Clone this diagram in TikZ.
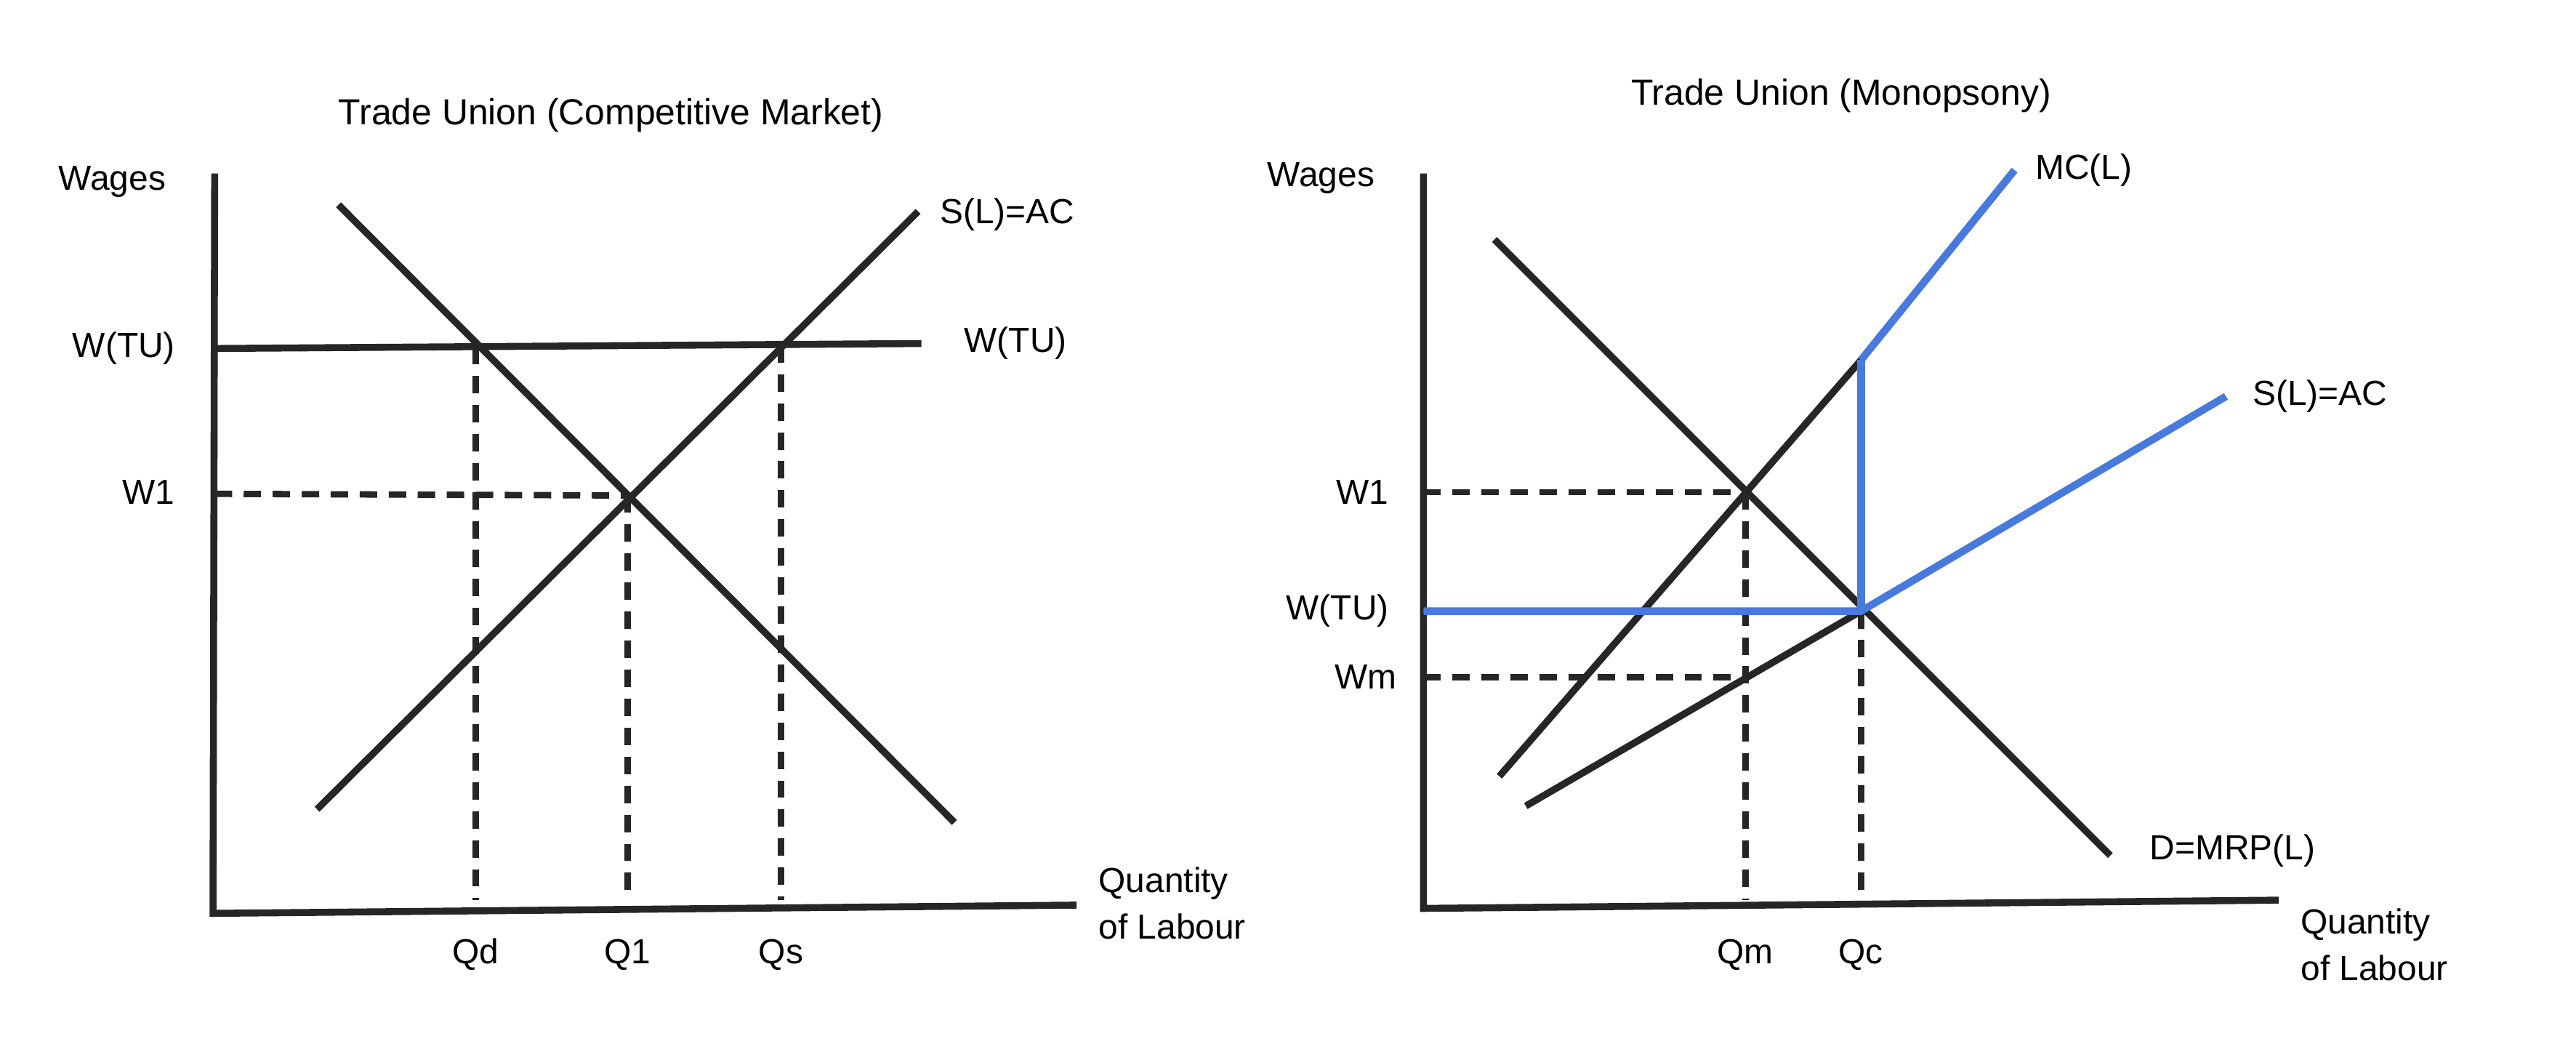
\documentclass[tikz,border=0pt]{standalone}
\usepackage{fontspec}
\setmainfont{Liberation Sans}
\definecolor{bl}{RGB}{72,122,222}
\begin{document}
\begin{tikzpicture}[x=0.02cm,y=-0.02cm,
  ln/.style={line width=2.4pt,black!85},
  bln/.style={line width=2.6pt,bl},
  dsh/.style={line width=2.2pt,black!85,dash pattern=on 6pt off 4pt},
  lb/.style={font=\fontsize{12}{14}\selectfont,inner sep=0pt},
  ttl/.style={font=\fontsize{12.5}{14}\selectfont,inner sep=0pt}]
\useasboundingbox (0,0) rectangle (1560,632);
% left
\node[ttl] (t1) at (370,70) {Trade Union (Competitive Market)};
\node[lb] (wa1) at (68,110) {Wages};
\coordinate (ya1) at (130,105); \coordinate (o1) at (129,553); \coordinate (xa1) at (652,548);
\draw[ln] (ya1) -- (o1) -- (xa1);
\coordinate (s1a) at (192,490); \coordinate (s1b) at (556,128);
\coordinate (d1a) at (205,124); \coordinate (d1b) at (578,498);
\draw[ln] (s1a) -- (s1b); \draw[ln] (d1a) -- (d1b);
\coordinate (w1a) at (130,211); \coordinate (w1b) at (558,208);
\draw[ln] (w1a) -- (w1b);
\coordinate (e1) at (380,300); \coordinate (w1l) at (130,299);
\draw[dsh] (w1l) -- (e1);
\coordinate (qd) at (288,210); \coordinate (qdb) at (288,545);
\coordinate (q1b) at (380,545);
\coordinate (qs) at (473,209); \coordinate (qsb) at (473,545);
\draw[dsh] (qd) -- (qdb); \draw[dsh] (e1) -- (q1b); \draw[dsh] (qs) -- (qsb);
\node[lb] (lwtu1) at (75,211) {W(TU)};
\node[lb] (lw11) at (90,298) {W1};
\node[lb] (lwtu1r) at (615,208) {W(TU)};
\node[lb] (ls1) at (610,130) {S(L)=AC};
\node[lb] (lqd) at (288,578) {Qd};
\node[lb] (lq1) at (380,578) {Q1};
\node[lb] (lqs) at (473,578) {Qs};
\node[lb,align=left,anchor=west] (lql1) at (665,547) {Quantity\\[2pt]of Labour};
% right
\node[ttl] (t2) at (1115,58) {Trade Union (Monopsony)};
\node[lb] (wa2) at (800,108) {Wages};
\coordinate (ya2) at (862,105); \coordinate (o2) at (862,550); \coordinate (xa2) at (1380,545);
\draw[ln] (ya2) -- (o2) -- (xa2);
\coordinate (d2a) at (905,145); \coordinate (d2b) at (1278,518);
\draw[ln] (d2a) -- (d2b);
\coordinate (m2a) at (908,470); \coordinate (m2b) at (1127,218); \coordinate (m2c) at (1220,103);
\coordinate (s2a) at (924,488); \coordinate (e2) at (1127,370); \coordinate (s2b) at (1348,240);
\coordinate (wtu) at (862,370);
\coordinate (qm) at (1057,298); \coordinate (qmw) at (1057,410);
\coordinate (w1r) at (862,298); \coordinate (wmr) at (862,410);
\coordinate (qmb) at (1057,545); \coordinate (qcb) at (1127,545);
\draw[dsh] (w1r) -- (qm); \draw[dsh] (wmr) -- (qmw);
\draw[dsh] (qm) -- (qmb); \draw[dsh] (e2) -- (qcb);
\draw[ln] (m2a) -- (m2b); \draw[ln] (s2a) -- (e2);
\draw[bln] (m2b) -- (m2c);
\draw[bln] (wtu) -- (e2) -- (s2b);
\draw[bln] (m2b) -- (e2);
\node[lb] (lw12) at (825,298) {W1};
\node[lb] (lwtu2) at (810,370) {W(TU)};
\node[lb] (lwm) at (827,410) {Wm};
\node[lb] (lmc) at (1262,103) {MC(L)};
\node[lb] (ls2) at (1405,240) {S(L)=AC};
\node[lb] (ld2) at (1352,515) {D=MRP(L)};
\node[lb] (lqm) at (1057,578) {Qm};
\node[lb] (lqc) at (1127,578) {Qc};
\node[lb,align=left,anchor=west] (lql2) at (1393,572) {Quantity\\[2pt]of Labour};
\end{tikzpicture}
\end{document}
